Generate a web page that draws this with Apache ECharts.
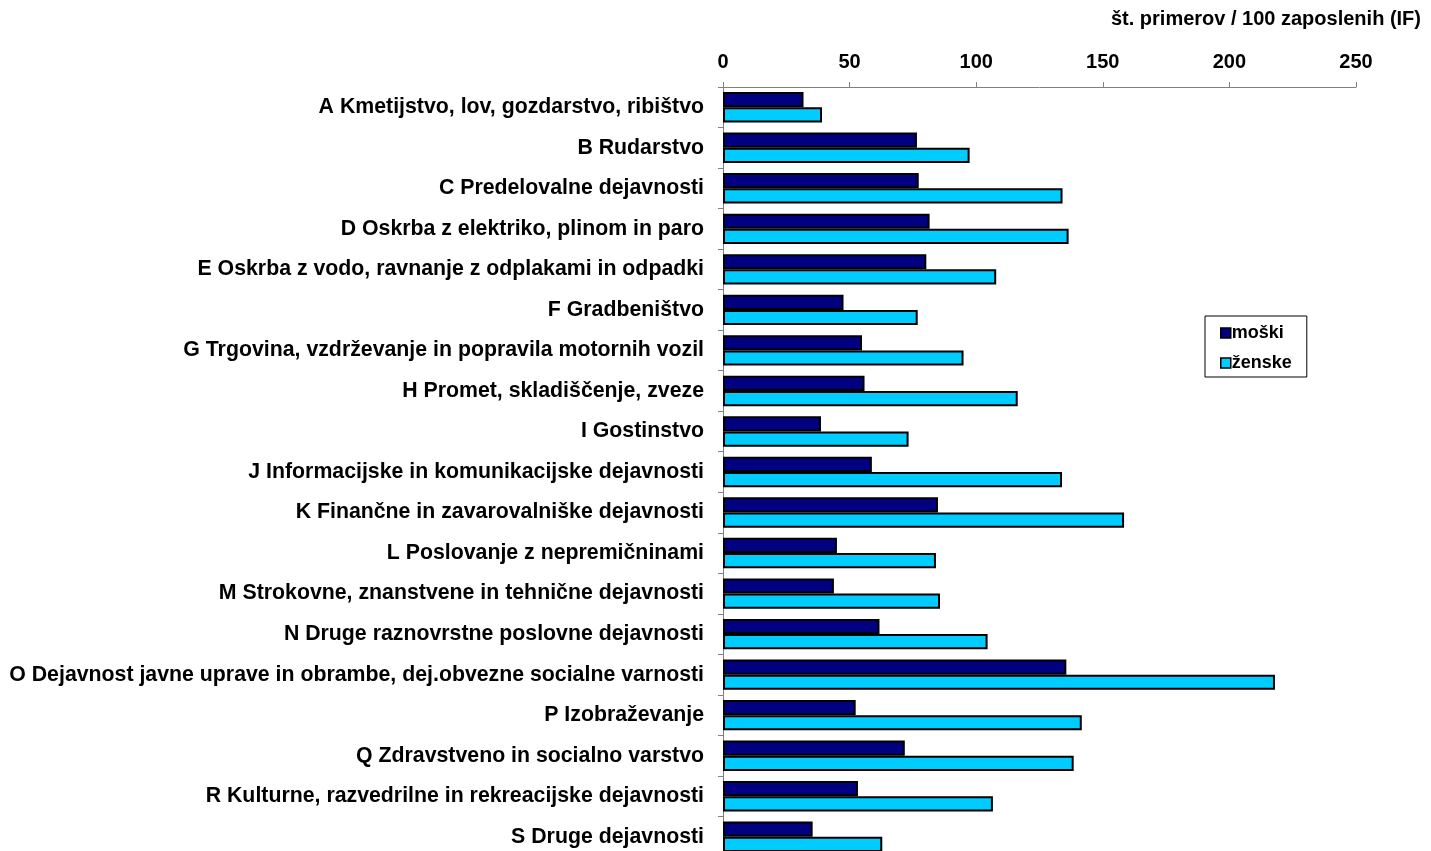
<!DOCTYPE html>
<html>
<head>
<meta charset="utf-8">
<script src="https://cdn.jsdelivr.net/npm/echarts@6/dist/echarts.min.js"></script>
<style>
  html, body { margin: 0; padding: 0; background: #ffffff; overflow: hidden; }
  /* the plot runs a few pixels past the bottom edge of the window */
  #chart { width: 1431px; height: 857px; }
</style>
</head>
<body>
<div id="chart"></div>
<script>
// Panoge dejavnosti (SKD)
const categories = [
  'A Kmetijstvo, lov, gozdarstvo, ribištvo',
  'B Rudarstvo',
  'C Predelovalne dejavnosti',
  'D Oskrba z elektriko, plinom in paro',
  'E Oskrba z vodo, ravnanje z odplakami in odpadki',
  'F Gradbeništvo',
  'G Trgovina, vzdrževanje in popravila motornih vozil',
  'H Promet, skladiščenje, zveze',
  'I Gostinstvo',
  'J Informacijske in komunikacijske dejavnosti',
  'K Finančne in zavarovalniške dejavnosti',
  'L Poslovanje z nepremičninami',
  'M Strokovne, znanstvene in tehnične dejavnosti',
  'N Druge raznovrstne poslovne dejavnosti',
  'O Dejavnost javne uprave in obrambe, dej.obvezne socialne varnosti',
  'P Izobraževanje',
  'Q Zdravstveno in socialno varstvo',
  'R Kulturne, razvedrilne in rekreacijske dejavnosti',
  'S Druge dejavnosti'
];

// Število primerov na 100 zaposlenih (IF)
const moski = [31.8, 76.6, 77.3, 81.6, 80.3, 47.6, 54.9, 55.9, 38.7, 58.8,
               84.9, 45.0, 43.8, 61.8, 135.6, 52.4, 71.8, 53.3, 35.4];
const zenske = [39.1, 97.4, 134.1, 136.5, 107.9, 76.9, 95.0, 116.4, 73.3, 133.9,
                158.4, 84.1, 85.7, 104.5, 218.0, 141.7, 138.5, 106.6, 62.9];

const xTicks = [0, 50, 100, 150, 200, 250];

const FONT = 'Liberation Sans, Arial, sans-serif';

const chart = echarts.init(document.getElementById('chart'), null, { renderer: 'canvas' });

chart.setOption({
  backgroundColor: '#ffffff',
  animation: false,
  title: {
    text: 'št. primerov / 100 zaposlenih (IF)',
    right: 5,
    top: 4,
    textStyle: { fontFamily: FONT, fontWeight: 'bold', fontSize: 20, color: '#000' }
  },
  legend: {
    data: ['moški', 'ženske'],
    orient: 'vertical',
    left: 1205,
    top: 316,
    padding: [8, 15, 5, 15],
    itemGap: 12,
    itemWidth: 10,
    itemHeight: 10,
    icon: 'rect',
    borderColor: '#000',
    borderWidth: 1,
    borderRadius: 0,
    backgroundColor: '#fff',
    textStyle: {
      fontFamily: FONT, fontWeight: 'bold', fontSize: 18, lineHeight: 18,
      color: '#000', padding: [0, 0, 0, -4]
    },
    itemStyle: { borderColor: '#000', borderWidth: 1.5 }
  },
  grid: {
    left: 723,
    right: 75,
    top: 87,
    bottom: 0,
    containLabel: false
  },
  xAxis: {
    type: 'value',
    position: 'top',
    min: xTicks[0],
    max: xTicks[xTicks.length - 1],
    interval: 50,
    axisLine: { show: true, lineStyle: { color: '#808080', width: 1 } },
    axisTick: { show: true, length: 5, lineStyle: { color: '#808080' } },
    splitLine: { show: false },
    axisLabel: {
      margin: 15,
      fontFamily: FONT,
      fontWeight: 'bold',
      fontSize: 20,
      color: '#000'
    }
  },
  yAxis: {
    type: 'category',
    data: categories,
    inverse: true,
    axisLine: { show: true, lineStyle: { color: '#808080', width: 1 } },
    axisTick: { show: true, length: 5, alignWithLabel: false, lineStyle: { color: '#808080' } },
    axisLabel: {
      margin: 19,
      fontFamily: FONT,
      fontWeight: 'bold',
      fontSize: 21.3,
      color: '#000'
    }
  },
  series: [
    {
      name: 'moški',
      type: 'bar',
      data: moski,
      barGap: '0%',
      barCategoryGap: '25%',
      itemStyle: { color: '#000080', borderColor: '#000', borderWidth: 2 }
    },
    {
      name: 'ženske',
      type: 'bar',
      data: zenske,
      barGap: '0%',
      barCategoryGap: '25%',
      itemStyle: { color: '#00CCFF', borderColor: '#000', borderWidth: 2 }
    }
  ]
});
</script>
</body>
</html>
